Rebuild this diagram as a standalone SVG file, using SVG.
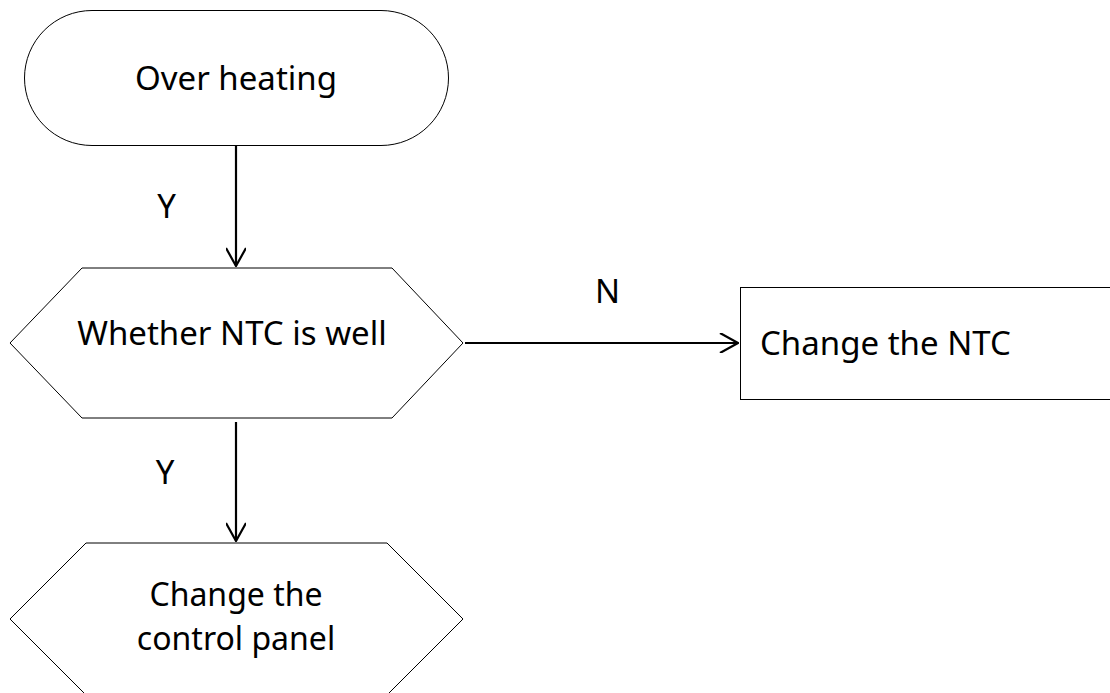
<svg xmlns="http://www.w3.org/2000/svg" width="1110" height="693" viewBox="0 0 1110 693">
<style>
.shape{fill:#fff;stroke:#000;stroke-width:1}
.txt{font-family:"Noto Sans","Open Sans",sans-serif;font-size:33px;fill:#000}
.lbl{font-family:"Noto Sans","Open Sans",sans-serif;font-size:33px;fill:#000;text-anchor:middle}
.conn{stroke:#000;stroke-width:2.2;fill:none}
</style>
<defs>
<marker id="arr" viewBox="0 0 20 20" refX="19" refY="10" markerWidth="20" markerHeight="20" markerUnits="userSpaceOnUse" orient="auto">
<path d="M1,0 L19,10 L1,20" fill="none" stroke="#000" stroke-width="2.2"/>
</marker>
</defs>
<rect width="1110" height="693" fill="#fff"/>
<g id="node-over-heating">
<rect class="shape" x="24.5" y="10.5" width="424" height="135" rx="67.5" ry="67.5"/>
<text class="lbl" x="236" y="90">Over heating</text>
</g>
<g id="node-whether-ntc">
<polygon class="shape" points="10,343 82,268 392,268 463,343 392,418 82,418"/>
<text class="lbl" x="232" y="345">Whether NTC is well</text>
</g>
<g id="node-change-ntc">
<rect class="shape" x="740.5" y="287.5" width="380" height="112"/>
<text class="txt" x="760" y="355">Change the NTC</text>
</g>
<g id="node-change-panel">
<polygon class="shape" points="10,619 86,543 387,543 463,619 387,695 86,695"/>
<text class="lbl" style="font-size:32px" x="236" y="606">Change the<tspan x="236" y="650">control panel</tspan></text>
</g>
<g id="connectors">
<line class="conn" x1="236" y1="146" x2="236" y2="266" marker-end="url(#arr)"/>
<line class="conn" x1="465" y1="343" x2="738" y2="343" marker-end="url(#arr)"/>
<line class="conn" x1="236" y1="422" x2="236" y2="541" marker-end="url(#arr)"/>
<text class="lbl" x="166.5" y="218">Y</text>
<text class="lbl" x="607.5" y="303">N</text>
<text class="lbl" x="165" y="484">Y</text>
</g>
</svg>
